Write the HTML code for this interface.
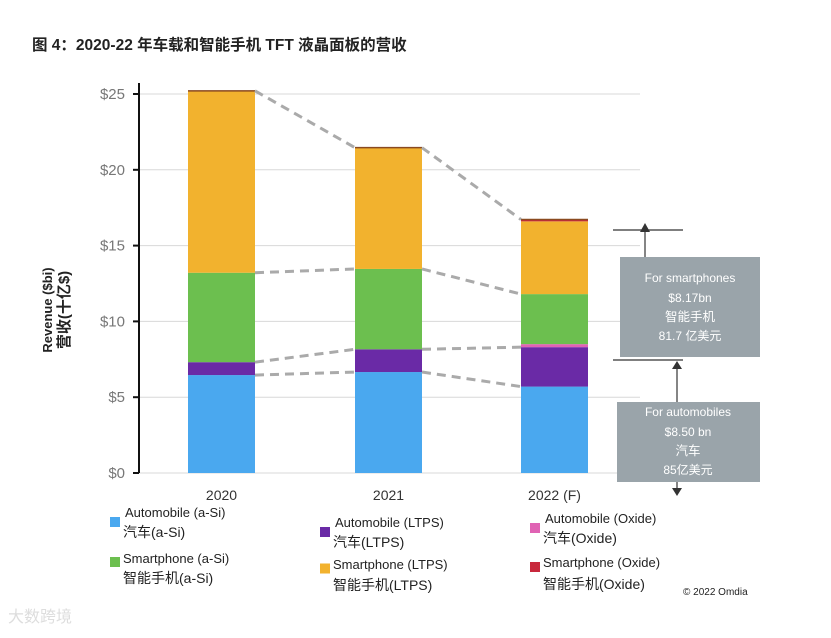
<!DOCTYPE html>
<html><head><meta charset="utf-8">
<style>
body{margin:0;background:#fff;width:831px;height:633px;overflow:hidden;font-family:"Liberation Sans","Noto Sans CJK SC",sans-serif;}
svg text{font-family:"Liberation Sans","Noto Sans CJK SC",sans-serif;}
</style></head>
<body>
<svg id="chart" width="831" height="633">
<text x="32" y="50" font-size="15.5" font-weight="bold" fill="#222">图 4：2020-22 年车载和智能手机 TFT 液晶面板的营收</text>
<g id="grid"></g>
<g id="bars"></g>
<g id="dashes"></g>
<g id="axis"></g>
<g transform="translate(52,310) rotate(-90)">
<text x="0" y="0" font-size="13" font-weight="bold" fill="#222" text-anchor="middle">Revenue ($bi)</text>
<text x="0" y="17" font-size="15" font-weight="bold" fill="#222" text-anchor="middle">营收(十亿$)</text>
</g>
<!-- annotations -->
<line x1="613" y1="230" x2="683" y2="230" stroke="#333" stroke-width="1.2"/>
<line x1="613" y1="360" x2="683" y2="360" stroke="#333" stroke-width="1.2"/>
<line x1="645" y1="257" x2="645" y2="228" stroke="#333" stroke-width="1.2"/>
<polygon points="640,232 650,232 645,223" fill="#333"/>
<line x1="677" y1="402" x2="677" y2="364" stroke="#333" stroke-width="1.2"/>
<polygon points="672,369 682,369 677,361" fill="#333"/>
<line x1="677" y1="482" x2="677" y2="490" stroke="#333" stroke-width="1.2"/>
<polygon points="672,488 682,488 677,496" fill="#333"/>
<g>
<rect x="620" y="257" width="140" height="100" fill="#9aa4aa"/>
<text x="690" y="282" font-size="12" fill="#fff" text-anchor="middle">For smartphones</text>
<text x="690" y="302" font-size="12" fill="#fff" text-anchor="middle">$8.17bn</text>
<text x="690" y="321" font-size="12.5" fill="#fff" text-anchor="middle">智能手机</text>
<text x="690" y="340" font-size="12" fill="#fff" text-anchor="middle">81.7 亿美元</text>
</g>
<g>
<rect x="617" y="402" width="143" height="80" fill="#9aa4aa"/>
<text x="688" y="416" font-size="12" fill="#fff" text-anchor="middle">For automobiles</text>
<text x="688" y="436" font-size="12" fill="#fff" text-anchor="middle">$8.50 bn</text>
<text x="688" y="455" font-size="12.5" fill="#fff" text-anchor="middle">汽车</text>
<text x="688" y="474" font-size="12" fill="#fff" text-anchor="middle">85亿美元</text>
</g>
<g id="legend" font-size="13" fill="#222"></g>
<text x="683" y="595" font-size="10" fill="#222">© 2022 Omdia</text>
<text x="8" y="622" font-size="16" fill="#ddd">大数跨境</text>
</svg>
<script>
const years=["2020","2021","2022 (F)"];
const autoASi=[6.46,6.66,5.7];
const autoLTPS=[0.85,1.5,2.6];
const autoOxide=[0,0,0.2];
const phoneASi=[5.9,5.3,3.3];
const phoneLTPS=[12.0,8.0,4.8];
const phoneOxide=[0,0,0.12];
const yTicks=[0,5,10,15,20,25];
const yTickLabels=["$0","$5","$10","$15","$20","$25"];
const NS="http://www.w3.org/2000/svg";
const y0=473,pxPer=15.16;
function y(v){return y0-v*pxPer;}
const barX=[188,355,521],barW=67;
function xb(i){return barX[i];}
function mk(tag,attrs,parent){const e=document.createElementNS(NS,tag);for(const k in attrs)e.setAttribute(k,attrs[k]);parent.appendChild(e);return e;}
const grid=document.getElementById('grid'),axis=document.getElementById('axis'),bars=document.getElementById('bars'),dashes=document.getElementById('dashes');
yTicks.forEach((t,i)=>{
  const g=mk('line',{x1:139,x2:640,y1:y(t),y2:y(t),stroke:'#d8d8d8','stroke-width':1},grid);
  
  
  mk('line',{x1:133,x2:139,y1:y(t),y2:y(t),stroke:'#111','stroke-width':2},axis);
  const tl=mk('text',{x:125,y:y(t)+5,'font-size':15,fill:'#777','text-anchor':'end'},axis);
  tl.textContent=yTickLabels[i];
  
  
});
const al=mk('line',{x1:139,x2:139,y1:83,y2:y0,stroke:'#111','stroke-width':2},axis);


const series=[[autoASi,'#4aa8ef','auto-asi'],[autoLTPS,'#6a2aa6','auto-ltps'],[autoOxide,'#e063b4','auto-oxide'],[phoneASi,'#6cbf4f','phone-asi'],[phoneLTPS,'#f2b22e','phone-ltps'],[phoneOxide,'#c8283c','phone-oxide']];
const cum=years.map(()=>0);
const tops=series.map(()=>[]);
series.forEach(([vals,col,nm],si)=>{
  years.forEach((yr,i)=>{
    const b=cum[i],t=b+vals[i];
    if(vals[i]>0){
      const r=mk('rect',{x:xb(i),y:y(t),width:barW,height:y(b)-y(t),fill:col},bars);
      
      
    }
    cum[i]=t;tops[si].push(t);
  });
});
// top line on bars
years.forEach((yr,i)=>{mk('line',{x1:xb(i),x2:xb(i)+barW,y1:y(cum[i]),y2:y(cum[i]),stroke:'#8a4a20','stroke-width':1.5},bars);
  const xl=mk('text',{x:xb(i)+barW/2,y:500,'font-size':14,fill:'#333','text-anchor':'middle'},axis);
  xl.textContent=yr;
  
  
});
// dashed connectors at levels: auto aSi top, auto LTPS top, phone aSi top, total
[0,1,3,5].forEach(si=>{
  for(let i=0;i<2;i++){
    const d=mk('line',{x1:xb(i)+barW,y1:y(tops[si][i]),x2:xb(i+1),y2:y(tops[si][i+1]),stroke:'#aaa','stroke-width':3,'stroke-dasharray':'9,6'},dashes);
    
    
  }
});
const legend=document.getElementById('legend');
const legItems=[[108,'#4aa8ef',['Automobile (a-Si)','汽车(a-Si)'],517,537],[108,'#6cbf4f',['Smartphone (a-Si)','智能手机(a-Si)'],563,583],
[318,'#6a2aa6',['Automobile (LTPS)','汽车(LTPS)'],527,547],[318,'#f2b22e',['Smartphone (LTPS)','智能手机(LTPS)'],569,590],
[528,'#e063b4',['Automobile (Oxide)','汽车(Oxide)'],523,543],[528,'#c8283c',['Smartphone (Oxide)','智能手机(Oxide)'],567,589]];
legItems.forEach(([x,c,txt,l1,l2])=>{
  const g=mk('g',{},legend);
  
  
  mk('rect',{x:x+2,y:(l1+l2)/2-10+(txt[0].startsWith('Smart')?-6:0),width:10,height:10,fill:c},g);
  const t1=mk('text',{x:x+(txt[0].startsWith('Smart')?15:17),y:l1},g);t1.textContent=txt[0];
  const t2=mk('text',{x:x+15,y:l2,'font-size':14},g);t2.textContent=txt[1];
});
</script>
</body></html>
